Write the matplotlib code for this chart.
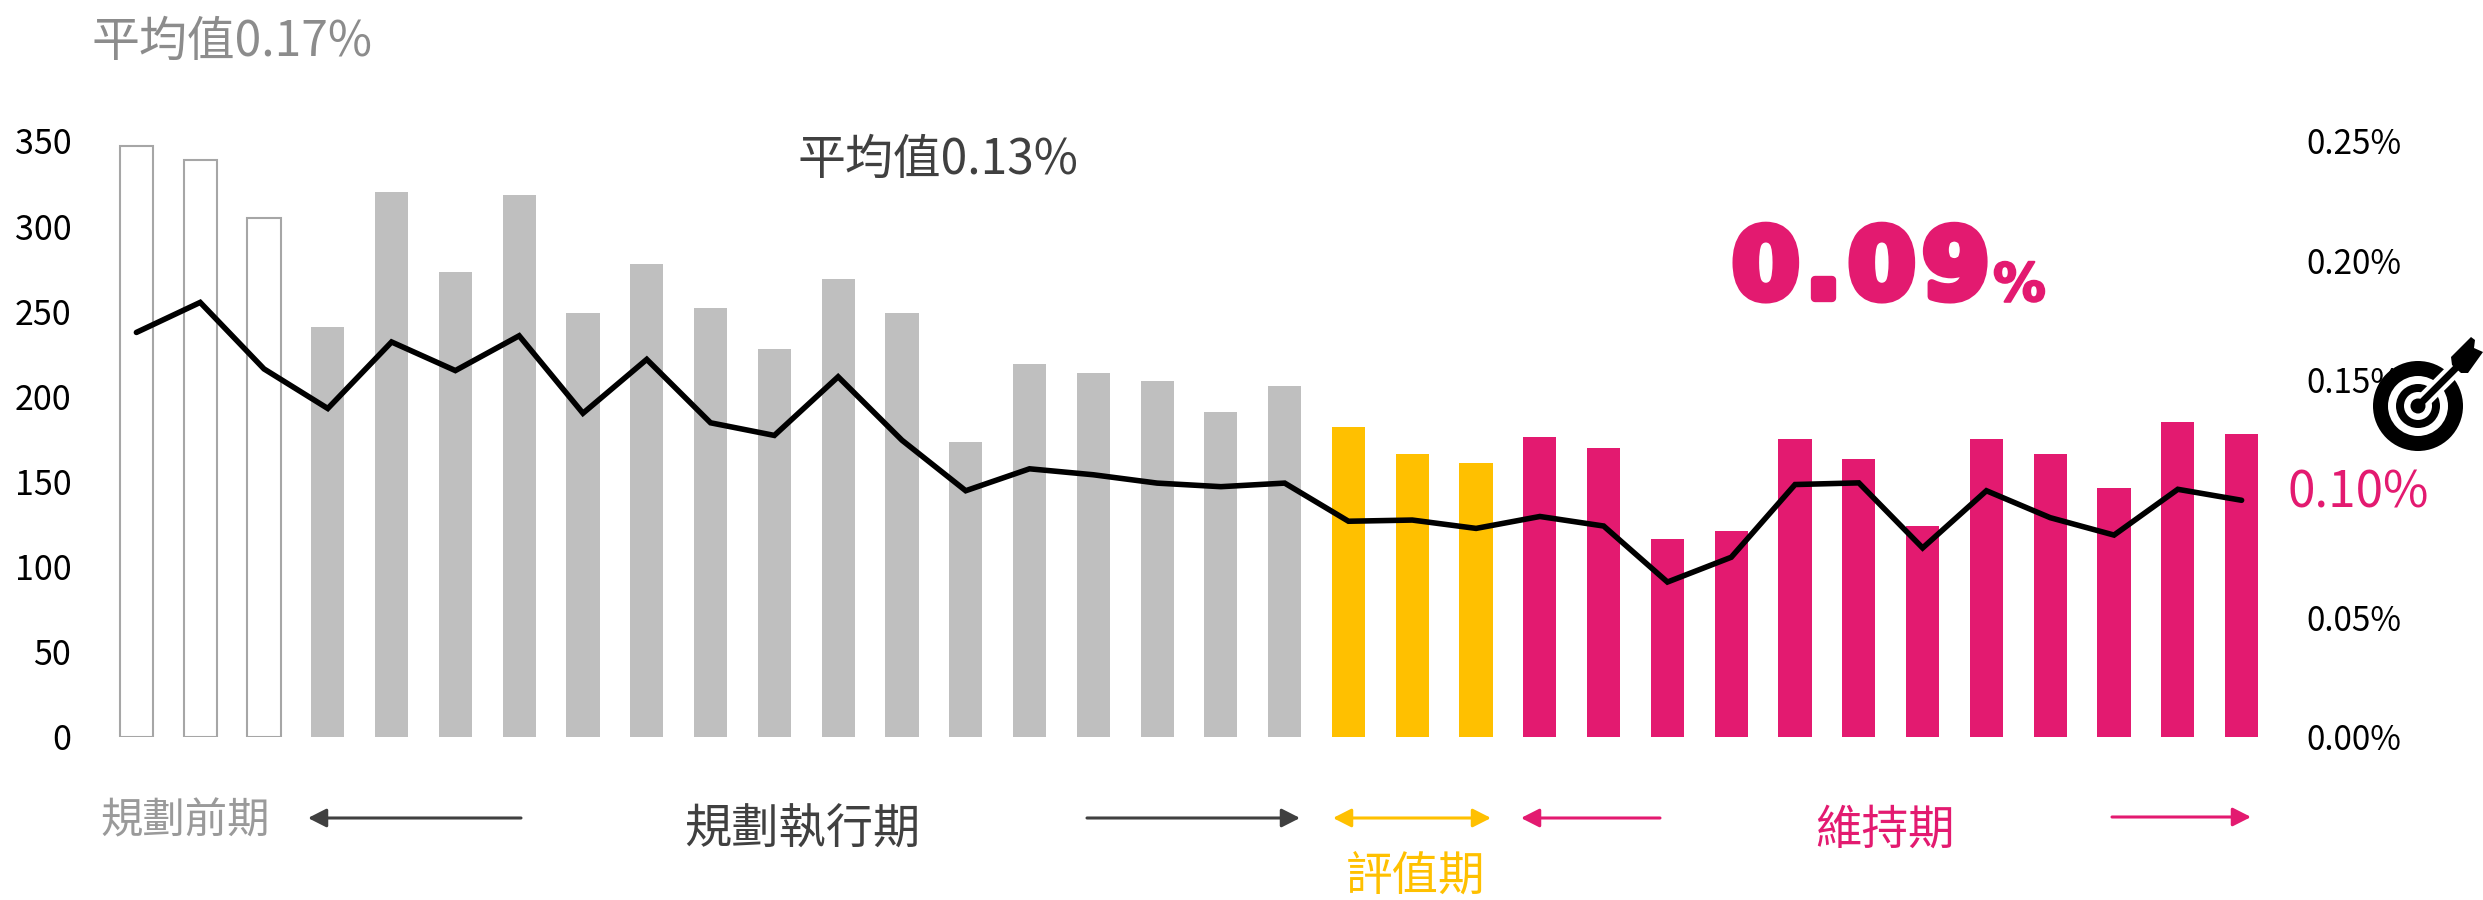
import matplotlib
matplotlib.use("Agg")
import matplotlib.pyplot as plt
from matplotlib.patches import Circle, Polygon
import matplotlib.patheffects as pe
import numpy as np

plt.rcParams['font.family'] = ['Noto Sans CJK TC', 'DejaVu Sans']

hollow_vals = [347, 339, 305]
gray_vals = [241, 320, 273, 318, 249, 278, 252, 228, 269, 249, 173, 219, 214, 209, 191, 206]
yellow_vals = [182, 166, 161]
pink_vals = [176, 170, 116, 121, 175, 163, 124, 175, 166, 146, 185, 178]
rate_vals = [.1697, .1823, .1544, .1378, .1657, .1537, .1683, .1358, .1584, .1318, .1265,
             .1511, .1245, .1033, .1125, .1100, .1065, .1050, .1065, .0905, .0910, .0875,
             .0925, .0885, .0650, .0754, .1059, .1066, .0793, .1033, .0920, .0847, .1039, .0993]
left_ticks = [0, 50, 100, 150, 200, 250, 300, 350]
right_ticks = [0, 0.05, 0.10, 0.15, 0.20, 0.25]
right_labels = ['0.00%', '0.05%', '', '0.15%', '0.20%', '0.25%']

PINK = '#E31A70'
YELLOW = '#FFC000'
GRAY = '#BFBFBF'
DARK = '#404040'
W, H = 2483, 900

fig = plt.figure(figsize=(W / 100, H / 100), dpi=100, facecolor='white')
L, R, T, B = 104.5, 2273.5, 141, 737
ax = fig.add_axes([L / W, 1 - B / H, (R - L) / W, (B - T) / H])

n = 0
for vals, kw in [(hollow_vals, dict(facecolor='white', edgecolor='#A6A6A6', linewidth=1.5)),
                 (gray_vals, dict(color=GRAY)),
                 (yellow_vals, dict(color=YELLOW)),
                 (pink_vals, dict(color=PINK))]:
    x = np.arange(n, n + len(vals))
    ax.bar(x, vals, width=0.52, **kw)
    n += len(vals)

ax.set_xlim(-0.5, n - 0.5)
ax.set_ylim(0, 350)
ax.set_xticks([])
ax.set_yticks(left_ticks)
ax.tick_params(axis='y', length=0, pad=24, labelsize=24.5, labelcolor='black')
for s in ax.spines.values():
    s.set_visible(False)

ax2 = ax.twinx()
ax2.plot(np.arange(n), rate_vals, color='black', lw=4, solid_joinstyle='miter', solid_capstyle='round')
ax2.set_ylim(0, 0.25)
ax2.set_yticks(right_ticks)
ax2.set_yticklabels(right_labels)
ax2.tick_params(axis='y', length=0, pad=24, labelsize=24, labelcolor='black')
for s in ax2.spines.values():
    s.set_visible(False)

# overlay in pixel coordinates for annotations
ov = fig.add_axes([0, 0, 1, 1], facecolor='none')
ov.set_xlim(0, W)
ov.set_ylim(H, 0)
ov.axis('off')

def label(x, y, s, color, size, ha='left', **kw):
    return ov.text(x, y, s, color=color, fontsize=size, ha=ha, va='center', **kw)

label(91, 42, '平均值0.17%', '#8C8C8C', 34.5)
label(798, 160, '平均值0.13%', DARK, 34.5)
label(100, 821, '規劃前期', '#9A9A9A', 30.5)
label(684, 830, '規劃執行期', DARK, 34)
label(1346, 876, '評值期', YELLOW, 33.5)
label(1815, 830, '維持期', PINK, 33.5)
label(2287, 493, '0.10%', PINK, 35.5)

stroke = [pe.withStroke(linewidth=6, foreground=PINK)]
for ch, xp in zip('0.09', [1732, 1805, 1848, 1922]):
    ov.text(xp, 298, ch, color=PINK, fontsize=70, family='DejaVu Sans', weight='bold',
            ha='left', va='baseline', path_effects=stroke)
ov.text(1993, 301, '%', color=PINK, fontsize=38, family='DejaVu Sans', weight='bold',
        ha='left', va='baseline', path_effects=[pe.withStroke(linewidth=1.5, foreground=PINK)])

def arrow(x0, x1, y, color, style='-|>'):
    ov.annotate('', xy=(x1, y), xytext=(x0, y),
                arrowprops=dict(arrowstyle=f'{style},head_length=0.65,head_width=0.33',
                                color=color, lw=2.2, shrinkA=0, shrinkB=0, mutation_scale=17))

arrow(521, 308, 818, DARK)
arrow(1087, 1300, 818, DARK)
arrow(1333, 1491, 818, YELLOW, '<|-|>')
arrow(1660, 1521, 818, PINK)
arrow(2112, 2251, 817, PINK)

# target icon
cx, cy = 2418, 406
for r, c in [(45, 'black'), (30, 'white'), (22, 'black'), (14, 'white'), (7.5, 'black')]:
    ov.add_patch(Circle((cx, cy), r, facecolor=c, edgecolor='none', zorder=5))
ov.plot([cx + 6, cx + 36], [cy - 6, cy - 36], color='white', lw=11, zorder=6, solid_capstyle='butt')
ov.plot([cx, cx + 40], [cy, cy - 40], color='black', lw=5, zorder=7, solid_capstyle='butt')
ov.add_patch(Polygon([(2451, 357), (2471, 337), (2475, 340), (2474, 348), (2483, 352),
                      (2468, 373), (2461, 373), (2452, 365)],
                     closed=True, facecolor='black', edgecolor='none', zorder=8))

fig.savefig('out.png', dpi=100, facecolor='white')
